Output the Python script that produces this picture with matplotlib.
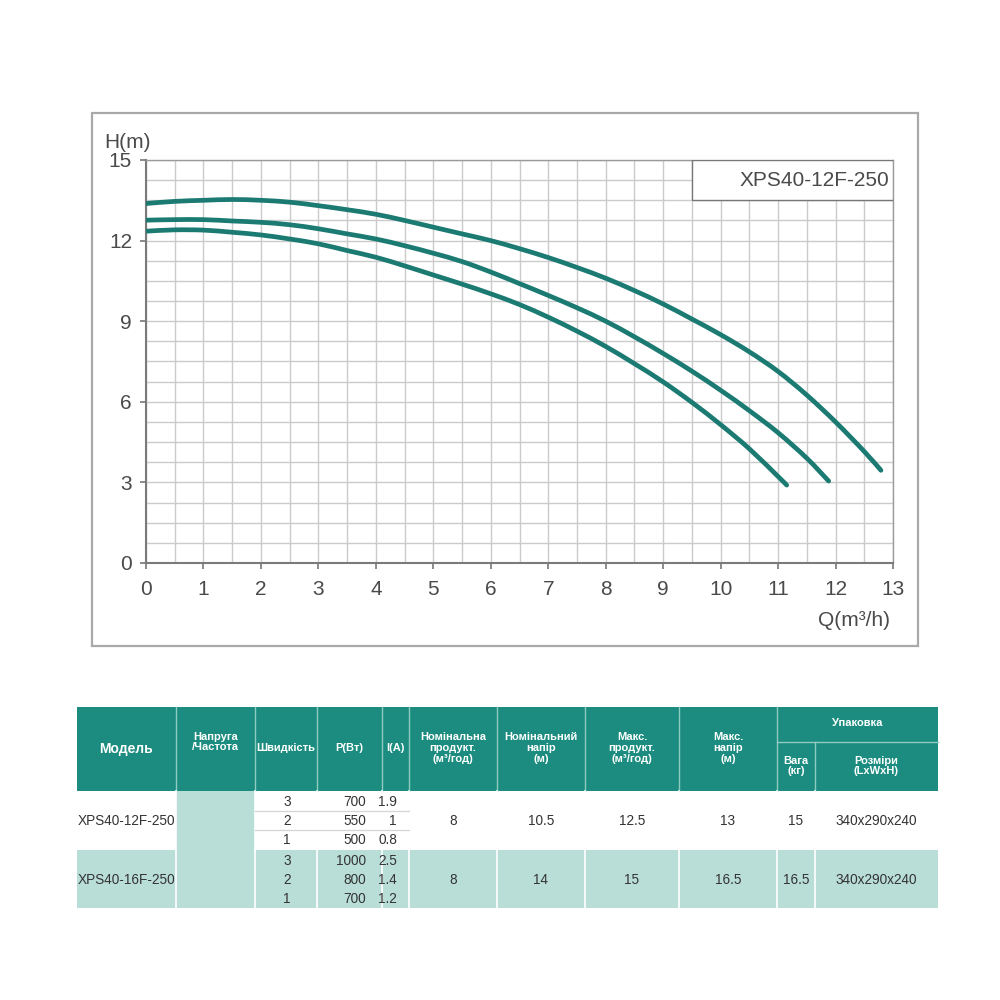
import matplotlib
matplotlib.use("Agg")
import matplotlib.pyplot as plt
from matplotlib.patches import Rectangle, PathPatch
from matplotlib.path import Path
from matplotlib.ticker import MultipleLocator

plt.rcParams['font.family'] = ['Liberation Sans', 'DejaVu Sans']

# pump curves, Q in m3/h, H in m
q_speed3 = [0, 0.5, 1, 1.5, 2, 2.5, 3, 3.5, 4, 4.5, 5, 5.5, 6, 6.5, 7, 7.5, 8,
            8.5, 9, 9.5, 10, 10.5, 11, 11.5, 12, 12.5, 12.79]
h_speed3 = [13.38, 13.46, 13.5, 13.53, 13.5, 13.43, 13.3, 13.15, 12.98, 12.75,
            12.5, 12.25, 12.0, 11.7, 11.37, 11.0, 10.6, 10.14, 9.64, 9.08, 8.5,
            7.86, 7.13, 6.25, 5.25, 4.15, 3.45]
q_speed2 = [0, 0.5, 1, 1.5, 2, 2.5, 3, 3.5, 4, 4.5, 5, 5.5, 6, 6.5, 7, 7.5, 8,
            8.5, 9, 9.5, 10, 10.5, 11, 11.5, 11.88]
h_speed2 = [12.76, 12.78, 12.78, 12.73, 12.68, 12.59, 12.44, 12.25, 12.06,
            11.81, 11.53, 11.22, 10.83, 10.4, 9.96, 9.5, 9.0, 8.42, 7.8, 7.14,
            6.43, 5.67, 4.85, 3.9, 3.05]
q_speed1 = [0, 0.5, 1, 1.5, 2, 2.5, 3, 3.5, 4, 4.5, 5, 5.5, 6, 6.5, 7, 7.5, 8,
            8.5, 9, 9.5, 10, 10.5, 11, 11.15]
h_speed1 = [12.35, 12.4, 12.39, 12.31, 12.21, 12.06, 11.88, 11.63, 11.38,
            11.06, 10.72, 10.38, 10.02, 9.62, 9.15, 8.63, 8.06, 7.42, 6.74, 5.98,
            5.15, 4.25, 3.22, 2.9]

x_ticks = [0, 1, 2, 3, 4, 5, 6, 7, 8, 9, 10, 11, 12, 13]
y_ticks = [0, 3, 6, 9, 12, 15]
model_label = 'XPS40-12F-250'

# table contents
header_cols = ['Модель', 'Напруга\n/Частота', 'Швидкість', 'P(Вт)', 'I(A)',
               'Номінальна\nпродукт.\n(м³/год)', 'Номінальний\nнапір\n(м)',
               'Макс.\nпродукт.\n(м³/год)', 'Макс.\nнапір\n(м)']
pack_header = 'Упаковка'
pack_cols = ['Вага\n(кг)', 'Розміри\n(LxWxH)']
models = ['XPS40-12F-250', 'XPS40-16F-250']
speeds = [['3', '2', '1'], ['3', '2', '1']]
power = [['700', '550', '500'], ['1000', '800', '700']]
current = [['1.9', '1', '0.8'], ['2.5', '1.4', '1.2']]
nom_flow = ['8', '8']
nom_head = ['10.5', '14']
max_flow = ['12.5', '15']
max_head = ['13', '16.5']
weight = ['15', '16.5']
dims = ['340x290x240', '340x290x240']

TEAL = '#1b8c7f'
LIGHT = '#b9ded8'
CURVE = '#1b7a72'
GRID = '#cbcbcb'


def smooth_path(xs, ys):
    """ Catmull-Rom through the read points, as cubic bezier segments """
    pts = list(zip(xs, ys))
    verts = [pts[0]]
    codes = [Path.MOVETO]
    n = len(pts)
    for i in range(n - 1):
        p0 = pts[max(i - 1, 0)]
        p1 = pts[i]
        p2 = pts[i + 1]
        p3 = pts[min(i + 2, n - 1)]
        c1 = (p1[0] + (p2[0] - p0[0]) / 6, p1[1] + (p2[1] - p0[1]) / 6)
        c2 = (p2[0] - (p3[0] - p1[0]) / 6, p2[1] - (p3[1] - p1[1]) / 6)
        verts += [c1, c2, p2]
        codes += [Path.CURVE4] * 3
    return Path(verts, codes)


fig = plt.figure(figsize=(10, 10), dpi=100)
fig.patches.append(Rectangle((0.092, 0.354), 0.826, 0.533, transform=fig.transFigure,
                             fill=False, ec='#a9a9a9', lw=1.6))

ax = fig.add_axes([0.146, 0.437, 0.747, 0.403])
ax.set_xlim(0, 13)
ax.set_ylim(0, 15)
ax.set_xticks(x_ticks)
ax.set_yticks(y_ticks)
ax.xaxis.set_minor_locator(MultipleLocator(0.5))
ax.yaxis.set_minor_locator(MultipleLocator(0.75))
ax.grid(which='both', color=GRID, lw=1.0)
ax.set_axisbelow(True)
ax.tick_params(which='minor', length=0)
ax.tick_params(which='major', direction='out', length=4, width=1.2, color='#777777',
               labelsize=15, labelcolor='#4a4a4a')
ax.tick_params(axis='x', pad=8)
ax.tick_params(axis='y', pad=6)
for s in ['left', 'bottom']:
    ax.spines[s].set_color('#7a7a7a')
    ax.spines[s].set_linewidth(1.5)
for s in ['top', 'right']:
    ax.spines[s].set_color('#9a9a9a')
    ax.spines[s].set_linewidth(1.0)

for q, h in [(q_speed3, h_speed3), (q_speed2, h_speed2), (q_speed1, h_speed1)]:
    ax.add_patch(PathPatch(smooth_path(q, h), fill=False, ec=CURVE, lw=3.4,
                           capstyle='round', joinstyle='round', zorder=3))

ax.add_patch(Rectangle((9.5, 13.5), 3.5, 1.5, fc='white', ec='#777777', lw=1.0, zorder=4))
ax.text(12.93, 14.25, model_label, ha='right', va='center', fontsize=15,
        color='#4a4a4a', zorder=5)

fig.text(0.104, 0.857, 'H(m)', ha='left', va='center', fontsize=15, color='#4a4a4a')
fig.text(0.890, 0.380, 'Q(m³/h)', ha='right', va='center', fontsize=15, color='#4a4a4a')

# ---- table, drawn in pixel coordinates
tab = fig.add_axes([0, 0, 1, 1])
tab.set_xlim(0, 1000)
tab.set_ylim(1000, 0)
tab.axis('off')

edges = [77, 176, 255, 317, 382, 409, 497, 585, 679, 777, 815, 938]
top, mid, hbot, gsplit, bot = 707, 742, 791, 850, 908

tab.add_patch(Rectangle((edges[0], top), edges[-1] - edges[0], hbot - top, fc=TEAL, ec='none'))
tab.add_patch(Rectangle((edges[0], gsplit), edges[-1] - edges[0], bot - gsplit, fc=LIGHT, ec='none'))
tab.add_patch(Rectangle((edges[1], hbot), edges[2] - edges[1], bot - hbot, fc=LIGHT, ec='none'))

for x in edges[1:-1]:
    y0 = mid if x == 815 else top
    tab.plot([x, x], [y0, hbot], color='#8fcbc3', lw=1.0)
    tab.plot([x, x], [hbot, bot], color='white', lw=1.2)
tab.plot([777, 938], [mid, mid], color='#8fcbc3', lw=1.0)
for y in [811, 830]:
    tab.plot([255, 409], [y, y], color='#d5d5d5', lw=0.9)

centers = [(edges[i] + edges[i + 1]) / 2 for i in range(len(edges) - 1)]
for i, lab in enumerate(header_cols):
    if i == 0:
        tab.text(centers[0], 749, lab, ha='center', va='center', fontsize=10,
                 fontweight='bold', color='white')
    else:
        yc = 742 if i == 1 else 748
        tab.text(centers[i], yc, lab, ha='center', va='center', fontsize=8,
                 fontweight='bold', color='white', linespacing=1.1)
tab.text((777 + 938) / 2, 723, pack_header, ha='center', va='center', fontsize=8,
         fontweight='bold', color='white')
for j, lab in enumerate(pack_cols):
    tab.text(centers[9 + j], 766, lab, ha='center', va='center', fontsize=8,
             fontweight='bold', color='white', linespacing=1.05)

row_y = [[802, 821, 840], [861, 880, 899]]
group_y = [821, 880]
tc = '#333333'
for g in range(2):
    tab.text(centers[0], group_y[g], models[g], ha='center', va='center', fontsize=9.8, color=tc)
    for k in range(3):
        tab.text(287, row_y[g][k], speeds[g][k], ha='center', va='center', fontsize=9.8, color=tc)
        tab.text(366, row_y[g][k], power[g][k], ha='right', va='center', fontsize=9.8, color=tc)
        tab.text(397, row_y[g][k], current[g][k], ha='right', va='center', fontsize=9.8, color=tc)
    for ci, vals in [(5, nom_flow), (6, nom_head), (7, max_flow), (8, max_head),
                     (9, weight), (10, dims)]:
        tab.text(centers[ci], group_y[g], vals[g], ha='center', va='center',
                 fontsize=9.8, color=tc)

fig.savefig('out.png', dpi=100, facecolor='white')
